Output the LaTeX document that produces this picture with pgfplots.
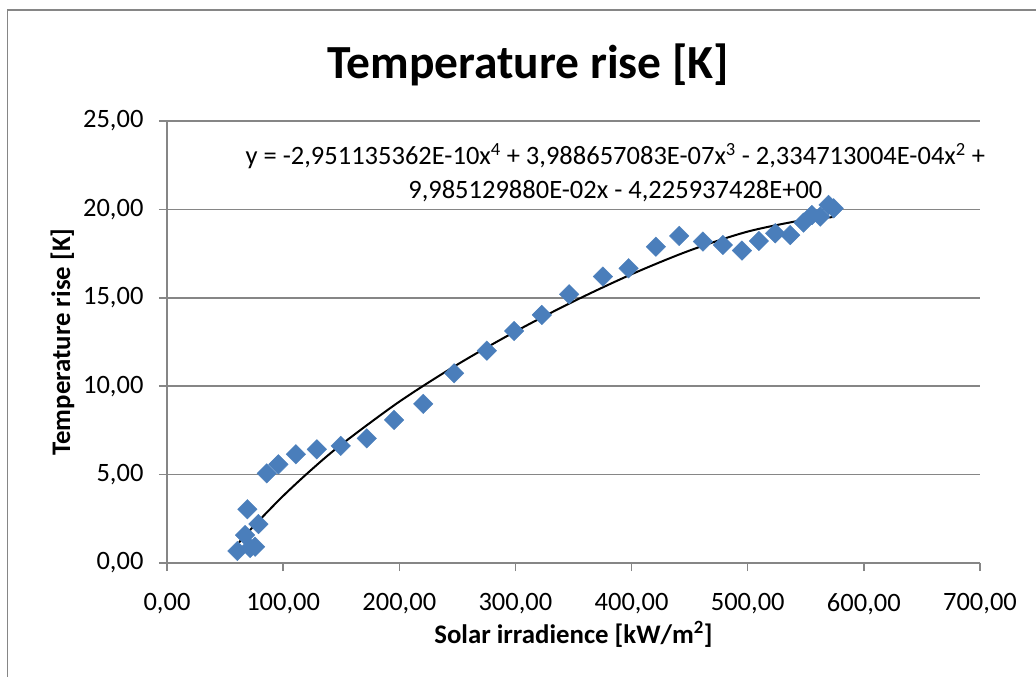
\documentclass[border=0pt]{standalone}
\usepackage{fontspec}
\setmainfont{Carlito}
\usepackage{pgfplots}
\pgfplotsset{compat=1.18}
\definecolor{excelblue}{HTML}{4A7EBB}
\definecolor{gridgray}{HTML}{868686}
\begin{document}
\begin{tikzpicture}
  % 1 px of the reference = 1 pt here
  \useasboundingbox (-167pt,-114pt) rectangle (869pt,563pt);
  \draw[gridgray, line width=1.5pt] (-159.5pt,-114pt) -- (-159.5pt,553pt) -- (869pt,553pt);
  \begin{axis}[
      at={(0pt,0pt)}, anchor=south west,
      scale only axis,
      width=813pt, height=442pt,
      xmin=0, xmax=700, ymin=0, ymax=25,
      xtick={0,100,...,700},
      ytick={0,5,...,25},
      axis x line=bottom, axis y line=left,
      axis line style={gridgray, line width=1.5pt, -},
      tick align=outside,
      major tick length=8pt,
      tick style={gridgray, line width=1.5pt},
      ymajorgrids,
      grid style={gridgray, line width=1.5pt},
      tick label style={font=\fontsize{26.5}{30}\selectfont},
      xticklabel style={yshift=-19pt},
      yticklabel style={xshift=-12pt},
      /pgf/number format/assume math mode=true,
      /pgf/number format/.cd, fixed, fixed zerofill, precision=2, use comma, 1000 sep={},
      /pgfplots/.cd,
      xlabel={\textbf{Solar irradience [kW/m\textsuperscript{2}]}},
      ylabel={\textbf{Temperature rise [K]}},
      label style={font=\fontsize{26.8}{31}\selectfont},
      ylabel style={yshift=2pt},
      clip=false,
    ]
    \addplot[only marks, mark=square*, mark size=6.9pt,
             mark options={rotate=45, fill=excelblue, draw=excelblue}]
      coordinates {
        (60.6,0.68) (67.2,1.58) (69.2,3.04) (71.5,0.85) (75.8,0.92)
        (78.7,2.20) (85.9,5.07) (95.9,5.58) (111.0,6.15) (129.0,6.43)
        (149.6,6.62) (172.0,7.05) (195.5,8.09) (220.6,9.00) (247.2,10.73)
        (275.4,12.01) (298.9,13.12) (322.7,14.03) (346.3,15.20) (375.3,16.20)
        (397.4,16.67) (420.9,17.89) (441.0,18.50) (461.4,18.18) (478.6,17.99)
        (495.0,17.67) (509.6,18.21) (523.7,18.65) (536.6,18.55) (548.0,19.25)
        (555.3,19.68) (562.5,19.59) (569.6,20.25) (574.0,20.06)
      };
    % trendline, values of the fitted polynomial
    \addplot[black, line width=2pt, smooth, no marks]
      coordinates {
        (62,1.158) (75,2.109) (100,3.794) (125,5.314) (150,6.695)
        (200,9.124) (250,11.224) (300,13.096) (350,14.795) (400,16.332)
        (450,17.674) (500,18.745) (550,19.424) (573,19.559)
      };
    \node[font=\fontsize{26.5}{34}\selectfont, align=center]
      at (axis cs:386,22.1)
      {y = -2,951135362E-10x\textsuperscript{4} + 3,988657083E-07x\textsuperscript{3} - 2,334713004E-04x\textsuperscript{2} +\\
       9,985129880E-02x - 4,225937428E+00};
    \node[font=\fontsize{47.5}{50}\bfseries] at (axis cs:311,28.2) {Temperature rise [K]};
  \end{axis}
\end{tikzpicture}
\end{document}
